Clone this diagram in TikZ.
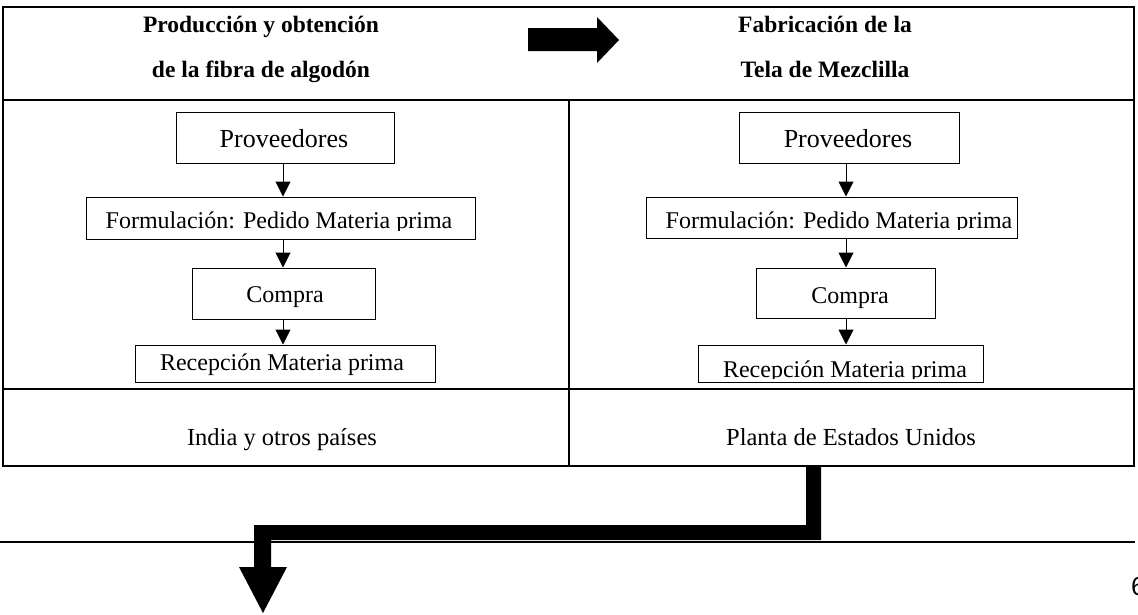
\documentclass[tikz,border=0pt]{standalone}
\usepackage{fontspec}
\setmainfont{Liberation Serif}
\newfontfamily\pagenumfont{Liberation Sans}
\usetikzlibrary{arrows.meta}
\tikzset{
  frame/.style={line width=2.2pt},
  flowbox/.style={draw, line width=1pt, inner sep=0pt},
  flowtxt/.style={anchor=base, inner sep=0pt, font=\fontsize{24}{28}\selectfont},
  headtxt/.style={anchor=base, inner sep=0pt, font=\fontsize{23.5}{28}\selectfont\bfseries},
  foottxt/.style={anchor=base, inner sep=0pt, font=\fontsize{24.5}{30}\selectfont},
  flow/.style={line width=1pt, -{Triangle[width=15pt,length=15pt]}},
  bigarrow/.style={fill=black, draw=none}
}
\begin{document}
\begin{tikzpicture}[x=1pt,y=-1pt]
\useasboundingbox (0,0) rectangle (1138,614);
% outer table
\draw[frame] (3,7) rectangle (1134,466);
\draw[frame] (3,100) -- (1134,100);
\draw[frame] (3,389) -- (1134,389);
\draw[frame] (569,100) -- (569,466);
% headers
\node[headtxt] (h1a) at (261,32) {Producción y obtención};
\node[headtxt] (h1b) at (261,77) {de la fibra de algodón};
\node[headtxt] (h2a) at (825,32) {Fabricación de la};
\node[headtxt] (h2b) at (825,77) {Tela de Mezclilla};
% big right arrow
\fill[bigarrow] (528,28) -- (597,28) -- (597,17) -- (619,40) -- (597,63) -- (597,51) -- (528,51) -- cycle;
% left flow
\node[flowbox, minimum width=218pt, minimum height=51pt] (lp) at (285,137.5) {};
\node[flowtxt, font=\fontsize{26}{30}\selectfont] (lpt) at (284,147) {Proveedores};
\node[flowbox, minimum width=389pt, minimum height=42pt] (lf) at (280.5,218) {};
\begin{scope}
\clip (86,190) rectangle (475,230);
\node[flowtxt] (lft) at (279,228) {Formulación: Pedido Materia prima};
\end{scope}
\node[flowbox, minimum width=183pt, minimum height=51pt] (lc) at (283.5,293.5) {};
\node[flowtxt] (lct) at (285,302) {Compra};
\node[flowbox, minimum width=300pt, minimum height=37pt] (lr) at (285,363.5) {};
\node[flowtxt] (lrt) at (282,370) {Recepción Materia prima};
\draw[flow] (lp.south -| 283,0) -- (lf.north -| 283,0);
\draw[flow] (lf.south -| 283,0) -- (lc.north -| 283,0);
\draw[flow] (lc.south -| 283,0) -- (lr.north -| 283,0);
% right flow
\node[flowbox, minimum width=220pt, minimum height=51pt] (rp) at (849,137.5) {};
\node[flowtxt, font=\fontsize{26}{30}\selectfont] (rpt) at (848,147) {Proveedores};
\node[flowbox, minimum width=371pt, minimum height=41pt] (rf) at (831.5,217.5) {};
\begin{scope}
\clip (646,190) rectangle (1017,229);
\node[flowtxt] (rft) at (839,228) {Formulación: Pedido Materia prima};
\end{scope}
\node[flowbox, minimum width=179pt, minimum height=50pt] (rc) at (845.5,293) {};
\node[flowtxt] (rct) at (850,303) {Compra};
\node[flowbox, minimum width=285pt, minimum height=37pt] (rr) at (840.5,363.5) {};
\begin{scope}
\clip (698,340) rectangle (983,378.5);
\node[flowtxt] (rrt) at (845,377) {Recepción Materia prima};
\end{scope}
\draw[flow] (rp.south -| 846,0) -- (rf.north -| 846,0);
\draw[flow] (rf.south -| 846,0) -- (rc.north -| 846,0);
\draw[flow] (rc.south -| 846,0) -- (rr.north -| 846,0);
% footer texts
\node[foottxt] (f1) at (282,445) {India y otros países};
\node[foottxt] (f2) at (851,445) {Planta de Estados Unidos};
% bottom L arrow
\fill[bigarrow] (806,466) -- (821,466) -- (821,540) -- (271,540) -- (271,567) -- (287,567)
  -- (263,613) -- (239,567) -- (254,567) -- (254,525) -- (806,525) -- cycle;
% page rule and number
\draw[line width=1.6pt] (0,542) -- (1135,542);
\node[anchor=base west, inner sep=0pt, font=\pagenumfont\fontsize{26}{30}\selectfont] (pn) at (1131,595) {6};
\end{tikzpicture}
\end{document}
